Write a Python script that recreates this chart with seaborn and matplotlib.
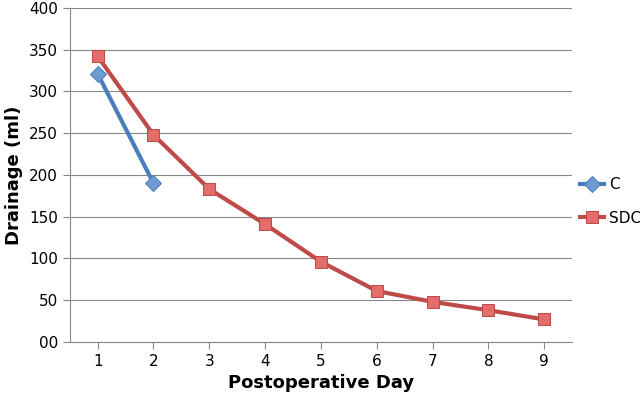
import matplotlib
matplotlib.use("Agg")
import matplotlib.pyplot as plt
import seaborn as sns
import pandas as pd

days_c = [1, 2]
c_vals = [321, 190]
days_sdc = [1, 2, 3, 4, 5, 6, 7, 8, 9]
sdc_vals = [342, 248, 183, 141, 96, 61, 48, 38, 27]
yticks = [0, 50, 100, 150, 200, 250, 300, 350, 400]
ytick_labels = ["00", "50", "100", "150", "200", "250", "300", "350", "400"]

df = pd.concat([
    pd.DataFrame({"day": days_c, "val": c_vals, "s": "C"}),
    pd.DataFrame({"day": days_sdc, "val": sdc_vals, "s": "SDC"}),
])

fig = plt.figure(figsize=(6.4, 4.13), dpi=100)
ax = fig.add_axes([0.109, 0.172, 0.785, 0.809])
sns.lineplot(data=df, x="day", y="val", hue="s", style="s",
             palette={"C": "#4a7ebb", "SDC": "#be4b48"},
             markers={"C": "D", "SDC": "s"}, dashes=False, linewidth=3,
             markersize=8, ax=ax)
for line in ax.lines:
    c = line.get_color()
    line.set_markerfacecolor("#6f9bd3" if c == "#4a7ebb" else "#e46c6a")
    line.set_markeredgecolor(c)
ax.set_xlim(0.5, 9.5)
ax.set_ylim(0, 400)
ax.set_xticks(days_sdc)
ax.set_yticks(yticks)
ax.set_yticklabels(ytick_labels)
ax.yaxis.grid(True, color="#888888", linewidth=0.8)
ax.set_axisbelow(True)
for s in ["top", "right"]:
    ax.spines[s].set_visible(False)
for s in ["left", "bottom"]:
    ax.spines[s].set_color("#888888")
ax.tick_params(axis="both", labelsize=11, color="#888888")
ax.tick_params(axis="x", direction="out", length=5)
ax.tick_params(axis="y", length=5)
ax.set_xlabel("Postoperative Day", fontsize=13, fontweight="bold")
ax.set_ylabel("Drainage (ml)", fontsize=13, fontweight="bold")
ax.legend(title=None, frameon=False, loc="center left",
          bbox_to_anchor=(1.0, 0.42), fontsize=11, labelspacing=1.2,
          handlelength=1.6, handletextpad=0.3, borderaxespad=0.1)
fig.savefig("out.png", dpi=100)
